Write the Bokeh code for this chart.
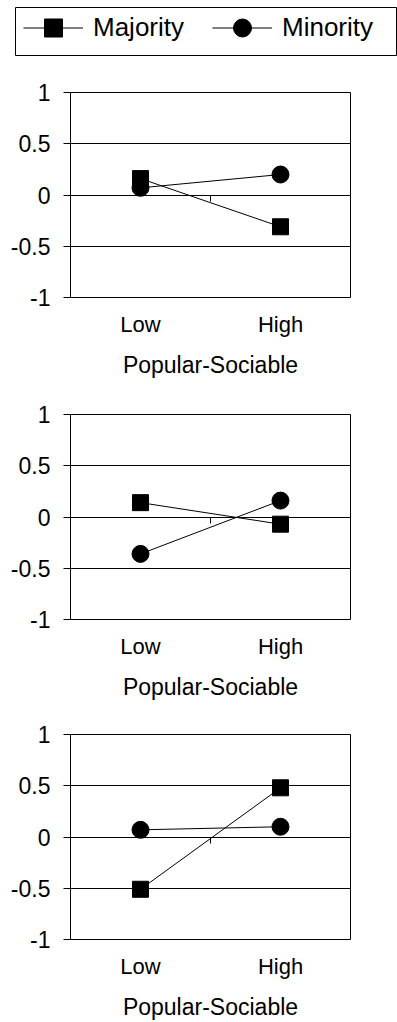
from bokeh.plotting import figure
from bokeh.layouts import column
from bokeh.models import (Range1d, FactorRange, FixedTicker, LinearAxis,
                          Legend, LegendItem)
from bokeh.embed import file_html
from bokeh.resources import INLINE

# ---- data -------------------------------------------------------------
groups = ["Low", "High"]
series_names = ["Majority", "Minority"]
panel1_majority = [0.16, -0.31]
panel1_minority = [0.07, 0.20]
panel2_majority = [0.14, -0.07]
panel2_minority = [-0.36, 0.16]
panel3_majority = [-0.51, 0.48]
panel3_minority = [0.07, 0.10]
x_axis_title = "Popular-Sociable"
y_ticks = [-1, -0.5, 0, 0.5, 1]
y_tick_labels = ["-1", "-0.5", "0", "0.5", "1"]
zero_line_ticks = [0, 1, 2]

FONT = "Liberation Sans"
W = 397


def make_panel(maj, mino, height, top, frame_h):
    bottom = height - top - frame_h
    p = figure(width=W, height=height,
               x_range=FactorRange(factors=groups), y_range=Range1d(-1, 1),
               output_backend="svg", toolbar_location=None,
               min_border_left=70, min_border_right=47,
               min_border_top=top, min_border_bottom=bottom)
    p.background_fill_color = "white"
    p.border_fill_color = "white"
    p.outline_line_color = "black"
    p.outline_line_width = 1
    p.outline_line_alpha = 1

    # y axis
    ya = p.yaxis[0]
    ya.ticker = FixedTicker(ticks=y_ticks)
    ya.major_label_overrides = dict(zip(y_ticks, y_tick_labels))
    ya.major_tick_out = 7
    ya.major_tick_in = 0
    ya.minor_tick_line_color = None
    ya.axis_line_color = "black"
    ya.major_tick_line_color = "black"
    ya.major_label_standoff = 13
    ya.major_label_text_font = FONT
    ya.major_label_text_font_size = "23px"
    ya.major_label_text_color = "black"

    # x axis (category labels)
    xa = p.xaxis[0]
    xa.axis_line_color = None
    xa.major_tick_line_color = None
    xa.major_tick_out = 0
    xa.major_tick_in = 0
    xa.minor_tick_line_color = None
    xa.major_label_standoff = 14
    xa.major_label_text_font = FONT
    xa.major_label_text_font_size = "22px"
    xa.major_label_text_color = "black"
    xa.axis_label = x_axis_title
    xa.axis_label_standoff = 12
    xa.axis_label_text_font = FONT
    xa.axis_label_text_font_size = "23px"
    xa.axis_label_text_font_style = "normal"
    xa.axis_label_text_color = "black"

    # axis drawn along y = 0 with ticks at category boundaries
    z = LinearAxis(fixed_location=0, ticker=FixedTicker(ticks=zero_line_ticks),
                   major_label_overrides={t: "" for t in zero_line_ticks},
                   major_label_standoff=0,
                   major_tick_out=6, major_tick_in=0,
                   minor_tick_line_color=None,
                   axis_line_color="black", major_tick_line_color="black")
    p.add_layout(z, "below")

    p.xgrid.visible = False
    p.ygrid.ticker = FixedTicker(ticks=y_ticks)
    p.ygrid.grid_line_color = "black"
    p.ygrid.grid_line_width = 1
    p.ygrid.grid_line_alpha = 1

    p.line(x=groups, y=maj, line_color="black", line_width=1)
    p.line(x=groups, y=mino, line_color="black", line_width=1)
    p.scatter(x=groups, y=maj, marker="square", size=16,
              fill_color="black", line_color="black")
    p.scatter(x=groups, y=mino, marker="circle", size=17,
              fill_color="black", line_color="black")
    return p


# ---- legend figure ----------------------------------------------------
leg = figure(width=W, height=58, x_axis_type=None, y_axis_type=None,
             x_range=FactorRange(factors=groups), y_range=Range1d(5, 6),
             output_backend="svg", toolbar_location=None,
             min_border_left=15, min_border_right=-4,
             min_border_top=7, min_border_bottom=3)
leg.outline_line_color = "black"
leg.outline_line_width = 1
leg.background_fill_color = "white"
leg.border_fill_color = "white"
l1 = leg.line(x=groups, y=panel1_majority, line_color="black", line_width=1)
s1 = leg.scatter(x=groups, y=panel1_majority, marker="square",
                 fill_color="black", line_color="black")
l2 = leg.line(x=groups, y=panel1_minority, line_color="black", line_width=1)
s2 = leg.scatter(x=groups, y=panel1_minority, marker="circle",
                 fill_color="black", line_color="black")
legend = Legend(items=[LegendItem(label=series_names[0], renderers=[l1, s1]),
                       LegendItem(label=series_names[1], renderers=[l2, s2])],
                orientation="horizontal", location=(8, 5),
                glyph_width=60, glyph_height=45, label_height=20,
                label_width=119, label_standoff=10, spacing=0,
                padding=0, margin=0, border_line_color=None,
                background_fill_alpha=0,
                label_text_font=FONT, label_text_font_size="26px",
                label_text_color="black")
leg.add_layout(legend, "center")

p1 = make_panel(panel1_majority, panel1_minority, 322, 34, 207)
p2 = make_panel(panel2_majority, panel2_minority, 322, 34, 207)
p3 = make_panel(panel3_majority, panel3_minority, 320, 32, 207)

layout = column(leg, column(p1, p2, p3, spacing=0), spacing=0)

open("out.html", "w").write(file_html(layout, INLINE))
